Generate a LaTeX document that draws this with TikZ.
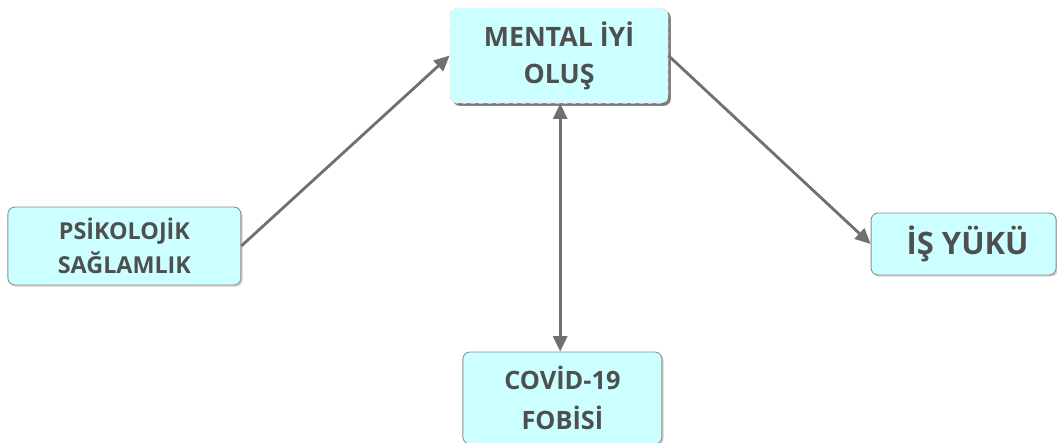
\documentclass[tikz,border=0pt]{standalone}
\usepackage{fontspec}
\setmainfont{Open Sans}
\usepackage{tikz}
\usetikzlibrary{arrows.meta,shadows}

\definecolor{boxfill}{HTML}{CCFFFF}
\definecolor{boxline}{HTML}{8C8C8C}
\definecolor{txtgray}{HTML}{4F4F4F}
\definecolor{arrowgray}{HTML}{707070}

\tikzset{
    concept/.style={draw=boxline, fill=boxfill, rounded corners=5pt, line width=0.6pt,
        align=center, text=txtgray, font=\bfseries, inner sep=0pt,
        drop shadow={shadow xshift=1.2pt, shadow yshift=-1.2pt, fill=black!30, opacity=0.6}},
    link/.style={draw=arrowgray, line width=2pt, -{Triangle[length=11pt, width=10pt]}}
}

\begin{document}
\begin{tikzpicture}
    \useasboundingbox (0,0) rectangle (26.425,11.05);

    % Mental well-being (top, selected box)
    \node[concept, minimum width=5.45cm, minimum height=2.375cm, draw=white!85!red, dashed,
          font=\bfseries\fontsize{19}{26.5}\selectfont,
          drop shadow={shadow xshift=2pt, shadow yshift=-2pt, fill=black!60, opacity=0.8}]
        (mental) at (13.975,9.66) {MENTAL İYİ\\OLUŞ};

    % Psychological resilience (left)
    \node[concept, minimum width=5.825cm, minimum height=1.95cm,
          font=\bfseries\fontsize{16.6}{24.5}\selectfont]
        (psiko) at (3.11,4.9) {PSİKOLOJİK\\SAĞLAMLIK};

    % Workload (right)
    \node[concept, minimum width=4.625cm, minimum height=1.55cm,
          font=\bfseries\fontsize{22}{26}\selectfont]
        (isyuku) at (24.09,4.95) {\hspace*{0.2cm}İŞ YÜKÜ};

    % Covid-19 phobia (bottom)
    \node[concept, minimum width=4.975cm, minimum height=2.3cm,
          font=\bfseries\fontsize{18}{28.5}\selectfont]
        (covid) at (14.06,1.1) {COVİD-19\\FOBİSİ};

    % Connectors
    \draw[link] (psiko.east) -- (mental.west);
    \draw[link] (mental.east) -- (isyuku.west);
    \draw[link, {Triangle[length=11pt, width=10pt]}-{Triangle[length=11pt, width=10pt]}]
        ([xshift=0.03cm]mental.south) -- ([xshift=0.03cm]mental.south |- covid.north);
\end{tikzpicture}
\end{document}
